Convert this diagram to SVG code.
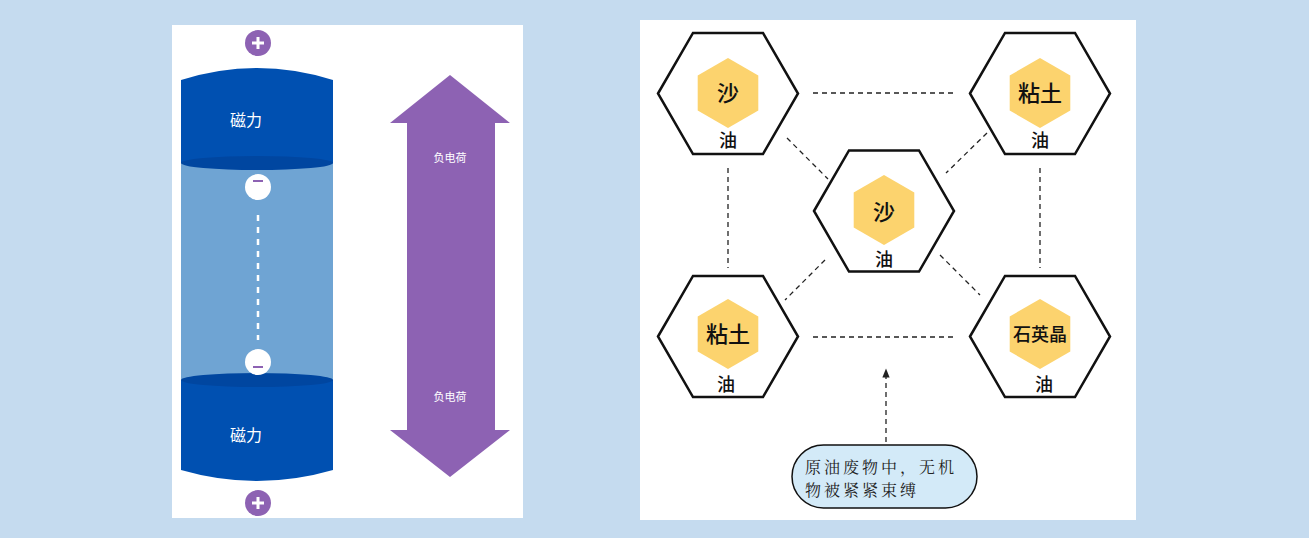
<svg xmlns="http://www.w3.org/2000/svg" width="1309" height="538" viewBox="0 0 1309 538">
<style>
.cn{font-family:"Noto Sans CJK SC","Noto Sans",sans-serif}
.wt{fill:#ffffff}
.hexo{fill:#ffffff;stroke:#111111;stroke-width:2.5}
.hexi{fill:#fcd36e}
.lbl{font-family:"Noto Sans CJK SC",sans-serif;fill:#111111;text-anchor:middle;font-weight:500}
.dash{stroke:#222222;stroke-width:1.3;stroke-dasharray:5 4;fill:none}
.co{font-family:"Noto Serif CJK SC","Noto Sans CJK SC",serif;font-size:16px;letter-spacing:3px;fill:#222222}
</style>
<defs>
<polygon id="ho" points="-70,0 -35,-60.6 35,-60.6 70,0 35,60.6 -35,60.6"/>
<polygon id="hi" points="0,-35 30.3,-17.5 30.3,17.5 0,35 -30.3,17.5 -30.3,-17.5"/>
<marker id="ah" viewBox="0 0 10 10" refX="5" refY="5" markerWidth="7" markerHeight="7" orient="auto"><path d="M0,1 L10,5 L0,9 Z" fill="#222"/></marker>
</defs>
<rect width="1309" height="538" fill="#c5dbef"/>
<rect x="172" y="25" width="351" height="493" fill="#ffffff"/>
<rect x="640" y="20" width="496" height="500" fill="#ffffff"/>

<g id="cylinder">
<rect x="181" y="160" width="152" height="225" fill="#6fa4d3"/>
<path d="M181,80 Q257,56 333,80 L333,163 L181,163 Z" fill="#0050b1"/>
<ellipse cx="257" cy="163" rx="76" ry="7" fill="#0046a0"/>
<path d="M181,380 L333,380 L333,470 Q257,492 181,470 Z" fill="#0050b1"/>
<ellipse cx="257" cy="380" rx="76" ry="7" fill="#0046a0"/>
<text x="246" y="126" class="cn wt" font-size="16" text-anchor="middle">磁力</text>
<text x="246" y="441" class="cn wt" font-size="16" text-anchor="middle">磁力</text>
<line x1="258" y1="215" x2="258" y2="340" stroke="#ffffff" stroke-width="2.5" stroke-dasharray="6 6"/>
</g>
<g id="minus1"><circle cx="258" cy="187" r="13" fill="#ffffff"/><line x1="253" y1="181" x2="263" y2="181" stroke="#8d62b3" stroke-width="2"/></g>
<g id="minus2"><circle cx="258" cy="362" r="13" fill="#ffffff"/><line x1="253" y1="367" x2="263" y2="367" stroke="#8d62b3" stroke-width="2"/></g>
<g id="plus1"><circle cx="258" cy="43" r="13" fill="#8d62b3"/><path d="M252,43 H264 M258,37 V49" stroke="#ffffff" stroke-width="3"/></g>
<g id="plus2"><circle cx="258" cy="503" r="13" fill="#8d62b3"/><path d="M252,503 H264 M258,497 V509" stroke="#ffffff" stroke-width="3"/></g>
<g id="arrow">
<path d="M450,75 L510,123 L495,123 L495,430 L510,430 L450,477 L390,430 L407,430 L407,123 L390,123 Z" fill="#8d62b3"/>
<text x="450" y="162" class="cn wt" font-size="11" text-anchor="middle">负电荷</text>
<text x="450" y="401" class="cn wt" font-size="11" text-anchor="middle">负电荷</text>
</g>

<g id="connectors">
<line class="dash" x1="813" y1="93" x2="957" y2="93"/>
<line class="dash" x1="813" y1="337" x2="957" y2="337"/>
<line class="dash" x1="728" y1="168" x2="728" y2="268"/>
<line class="dash" x1="1040" y1="168" x2="1040" y2="268"/>
<line class="dash" x1="787" y1="138" x2="828" y2="179"/>
<line class="dash" x1="987" y1="133" x2="946" y2="173"/>
<line class="dash" x1="825" y1="260" x2="785" y2="300"/>
<line class="dash" x1="940" y1="255" x2="980" y2="295"/>
<line class="dash" x1="886" y1="442" x2="886" y2="373" marker-end="url(#ah)"/>
</g>

<g id="n1"><use href="#ho" x="728" y="93.5" class="hexo"/><use href="#hi" x="728" y="93" class="hexi"/><text x="728" y="101" class="lbl" font-size="22">沙</text><text x="728" y="147" class="lbl" font-size="18">油</text></g>
<g id="n2"><use href="#ho" x="1040" y="93.5" class="hexo"/><use href="#hi" x="1040" y="93" class="hexi"/><text x="1040" y="101" class="lbl" font-size="22">粘土</text><text x="1040" y="147" class="lbl" font-size="18">油</text></g>
<g id="n3"><use href="#ho" x="884" y="211" class="hexo"/><use href="#hi" x="884" y="210" class="hexi"/><text x="884" y="220" class="lbl" font-size="22">沙</text><text x="884" y="266" class="lbl" font-size="18">油</text></g>
<g id="n4"><use href="#ho" x="728" y="336.5" class="hexo"/><use href="#hi" x="728" y="334" class="hexi"/><text x="728" y="342" class="lbl" font-size="22">粘土</text><text x="726" y="391" class="lbl" font-size="18">油</text></g>
<g id="n5"><use href="#ho" x="1040" y="336.5" class="hexo"/><use href="#hi" x="1040" y="334" class="hexi"/><text x="1040" y="341" class="lbl" font-size="18">石英晶</text><text x="1044" y="391" class="lbl" font-size="18">油</text></g>

<g id="callout">
<rect x="792" y="445" width="185" height="63" rx="31.5" fill="#d3eaf8" stroke="#111111" stroke-width="1.5"/>
<text x="805" y="473" class="co">原油废物中，无机</text>
<text x="805" y="496" class="co">物被紧紧束缚</text>
</g>
</svg>
